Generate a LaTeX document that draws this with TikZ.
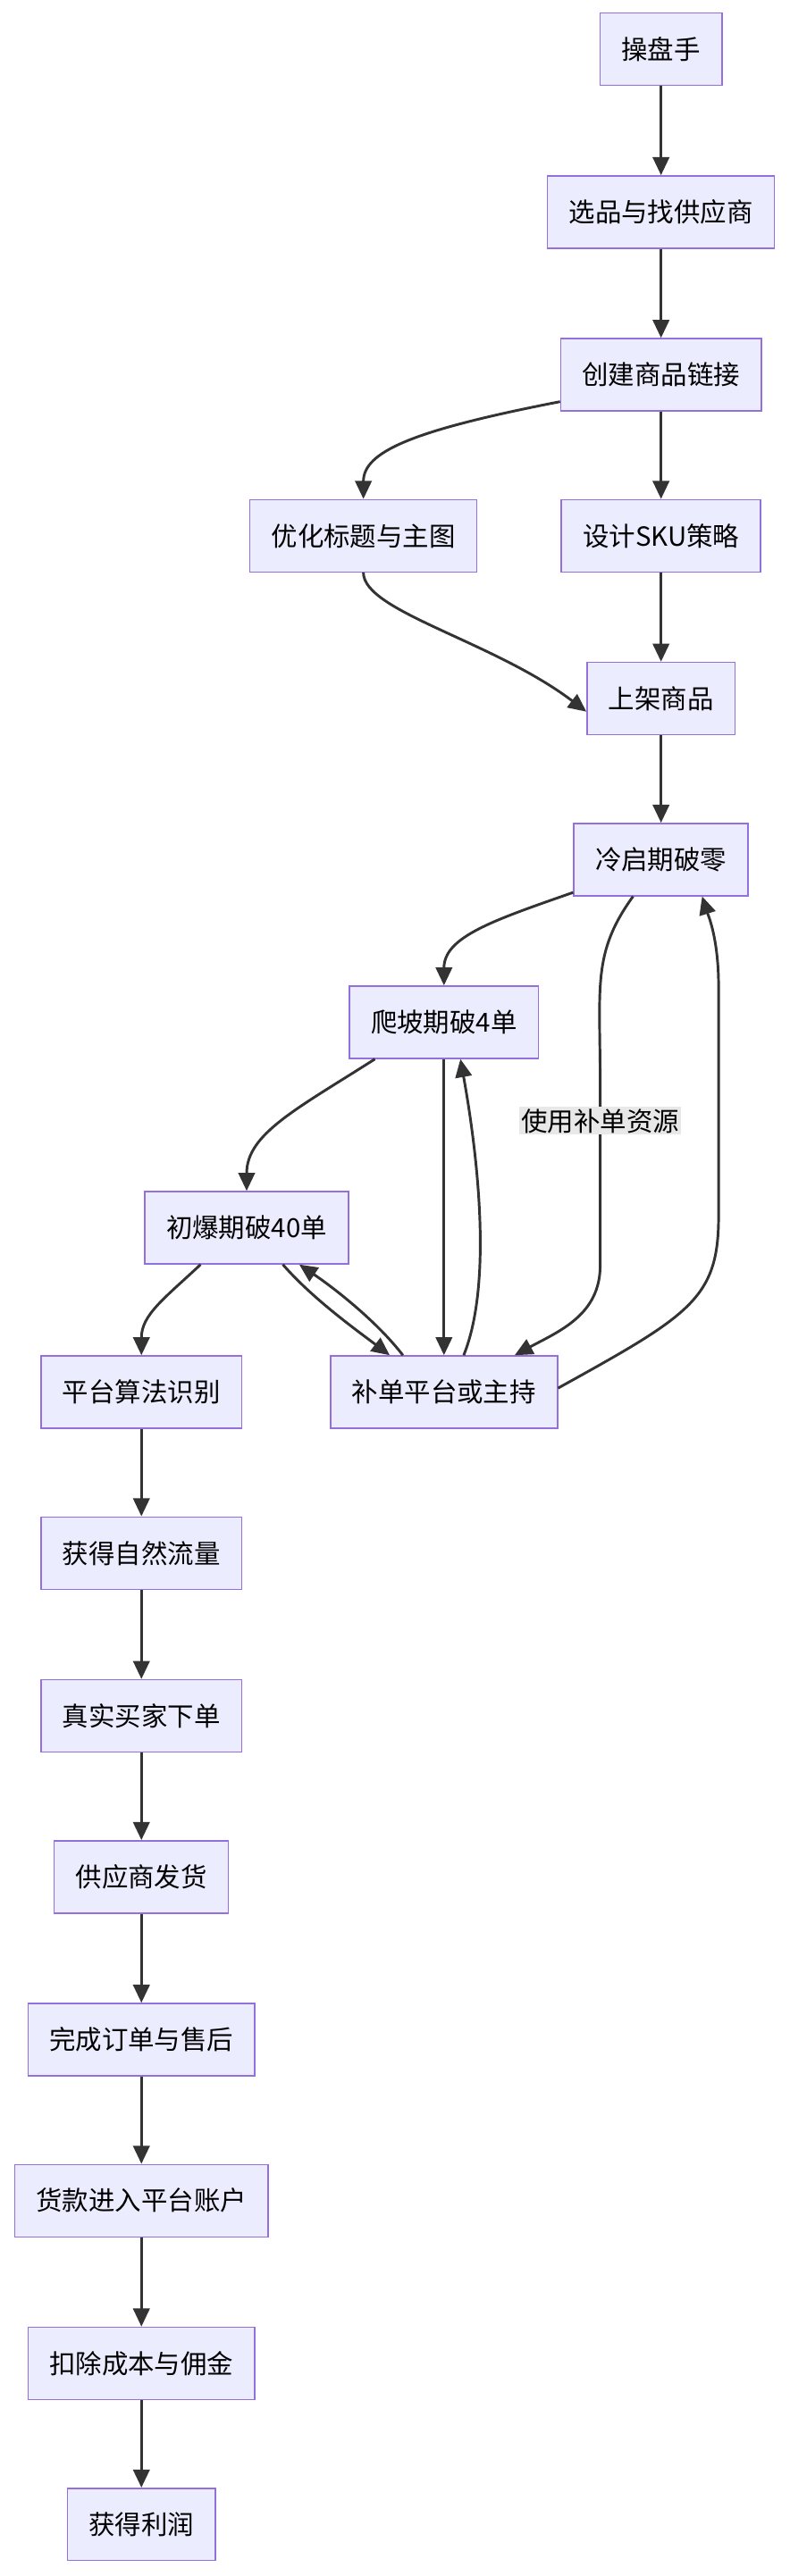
\documentclass[tikz,border=0pt]{standalone}
\usepackage{fontspec}
\setmainfont{Noto Sans CJK SC}
\usetikzlibrary{arrows.meta}
\definecolor{boxfill}{HTML}{ECECFF}
\definecolor{boxline}{HTML}{9370DB}
\definecolor{edgecol}{HTML}{333333}
\definecolor{labelbg}{HTML}{E8E8E8}
\begin{document}
\begin{tikzpicture}[x=1pt,y=-1pt,
                    box/.style = {draw=boxline,fill=boxfill,line width=0.8pt,minimum height=44pt,inner xsep=13pt,font=\fontsize{16}{19}\selectfont},
                    arrow/.style = {draw=edgecol,line width=1.6pt,-{Triangle[length=11pt,width=10pt]}}]
                    \useasboundingbox (0,0) rectangle (480.4,1567.4);
                    % setup
                    \node [box] (trader) at (402,30) {操盘手};
                    \node [box] (select) at (402,129) {选品与找供应商};
                    \node [box] (create) at (402,228) {创建商品链接};
                    \node [box] (title) at (221,326) {优化标题与主图};
                    \node [box] (sku) at (402,326) {设计SKU策略};
                    \node [box] (list) at (402,425) {上架商品};

                    % stages
                    \node [box] (cold) at (402,523) {冷启期破零};
                    \node [box] (climb) at (270,622) {爬坡期破4单};
                    \node [box] (burst) at (150,747) {初爆期破40单};
                    \node [box] (algo) at (86,847) {平台算法识别};
                    \node [box] (boost) at (270,847) {补单平台或主持};

                    % sales
                    \node [box] (traffic) at (86,945) {获得自然流量};
                    \node [box] (buyer) at (86,1044) {真实买家下单};
                    \node [box] (ship) at (86,1142) {供应商发货};
                    \node [box] (done) at (86,1241) {完成订单与售后};
                    \node [box] (pay) at (86,1339) {货款进入平台账户};
                    \node [box] (cost) at (86,1438) {扣除成本与佣金};
                    \node [box] (profit) at (86,1536) {获得利润};

                    \draw[arrow] (trader) -- (select);
                    \draw[arrow] (select) -- (create);
                    \draw[arrow] (create.south west) ++(0,-6) .. controls (250,262) and (221,275) .. (title.north);
                    \draw[arrow] (create) -- (sku);
                    \draw[arrow] (title.south) .. controls (221,372) and (300,390) .. ([yshift=-8pt]list.west);
                    \draw[arrow] (sku) -- (list);
                    \draw[arrow] (list) -- (cold);
                    \draw[arrow] ([yshift=-20pt]cold.west) .. controls (300,560) and (270,570) .. (climb.north);
                    \draw[arrow] ([xshift=-42pt]climb.south) .. controls (180,675) and (150,690) .. (burst.north);
                    \draw[arrow] (climb.south) -- (boost.north);
                    \draw[arrow] ([xshift=12pt]boost.north) .. controls (300,780) and (290,700) .. ([xshift=10pt]climb.south);
                    \draw[arrow] ([xshift=-17pt]cold.south) .. controls (360,580) and (365,600) .. (365,660) -- (365,770)
                        node [pos=0.2,fill=labelbg,inner sep=1pt,font=\fontsize{16}{19}\selectfont] (use) {使用补单资源}
                        .. controls (365,800) and (340,810) .. ([xshift=43pt]boost.north);
                    \draw[arrow] ([yshift=-20pt]boost.north east) .. controls (420,800) and (437,790) .. (437,740) -- (437,600) .. controls (437,570) and (430,555) .. ([xshift=25pt]cold.south);
                    \draw[arrow] ([xshift=-28pt]burst.south) .. controls (100,790) and (86,800) .. (algo.north);
                    \draw[arrow] ([xshift=22pt]burst.south) .. controls (190,790) and (215,808) .. ([xshift=-33pt]boost.north);
                    \draw[arrow] ([xshift=-25pt]boost.north) .. controls (230,805) and (205,785) .. ([xshift=32pt]burst.south);
                    \draw[arrow] (algo) -- (traffic);
                    \draw[arrow] (traffic) -- (buyer);
                    \draw[arrow] (buyer) -- (ship);
                    \draw[arrow] (ship) -- (done);
                    \draw[arrow] (done) -- (pay);
                    \draw[arrow] (pay) -- (cost);
                    \draw[arrow] (cost) -- (profit);
                \end{tikzpicture}
\end{document}
